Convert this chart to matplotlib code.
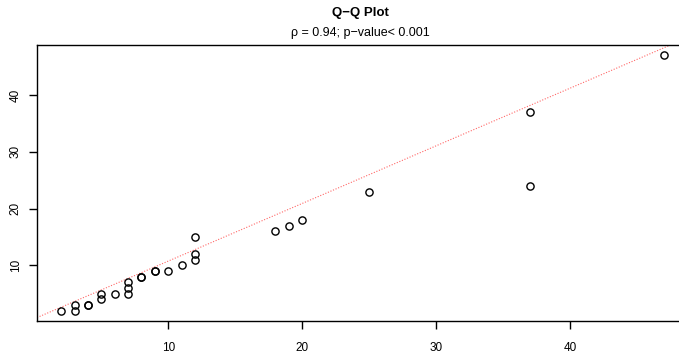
import matplotlib.pyplot as plt
import numpy as np

plt.rcParams['font.family'] = ['Liberation Sans', 'DejaVu Sans']

# sorted sample quantiles (Q-Q pairs)
x_q = [2, 3, 3, 4, 4, 5, 5, 6, 7, 7, 7, 8, 8, 9, 9, 10, 11, 12, 12, 12, 18, 19, 20, 25, 37, 37, 47]
y_q = [2, 2, 3, 3, 3, 4, 5, 5, 5, 6, 7, 8, 8, 9, 9, 9, 10, 11, 12, 15, 16, 17, 18, 23, 24, 37, 47]
line_intercept = 0.6
line_slope = 1.015
x_ticks = [10, 20, 30, 40]
y_ticks = [10, 20, 30, 40]
title = "Q\u2212Q Plot"
subtitle = "\u03c1 = 0.94; p\u2212value< 0.001"

fig = plt.figure(figsize=(6.79, 3.56), dpi=100)
# the right edge of the plot region runs past the picture, as in the reference
ax = fig.add_axes([37 / 679, 1 - 321 / 356, 651 / 679, 276 / 356])

# R-style 4% padding around the data range
lo, hi = min(x_q + y_q), max(x_q + y_q)
pad = 0.04 * (hi - lo)
ax.set_xlim(lo - pad, hi + pad)
ax.set_ylim(lo - pad, hi + pad)

xs = np.array([lo - pad, hi + pad])
ax.plot(xs, line_intercept + line_slope * xs, color='red', lw=0.8, ls=(0, (1, 1.5)), alpha=0.6)
ax.plot(x_q, y_q, 'o', mfc='none', mec='black', ms=5.2, mew=1.0)

ax.set_xticks(x_ticks)
ax.set_yticks(y_ticks)
ax.tick_params(length=6, width=1, labelsize=8.5, color='black')
ax.tick_params(axis='x', pad=9)
ax.tick_params(axis='y', pad=5)
for lab in ax.get_yticklabels():
    lab.set_rotation(90)
    lab.set_va('center')
for s in ax.spines.values():
    s.set_linewidth(1)

fig.text(360 / 679, 1 - 13 / 356, title, ha='center', va='center', fontsize=9.5, fontweight='bold')
fig.text(360 / 679, 1 - 33 / 356, subtitle, ha='center', va='center', fontsize=9)

fig.savefig('out.png', dpi=100)
